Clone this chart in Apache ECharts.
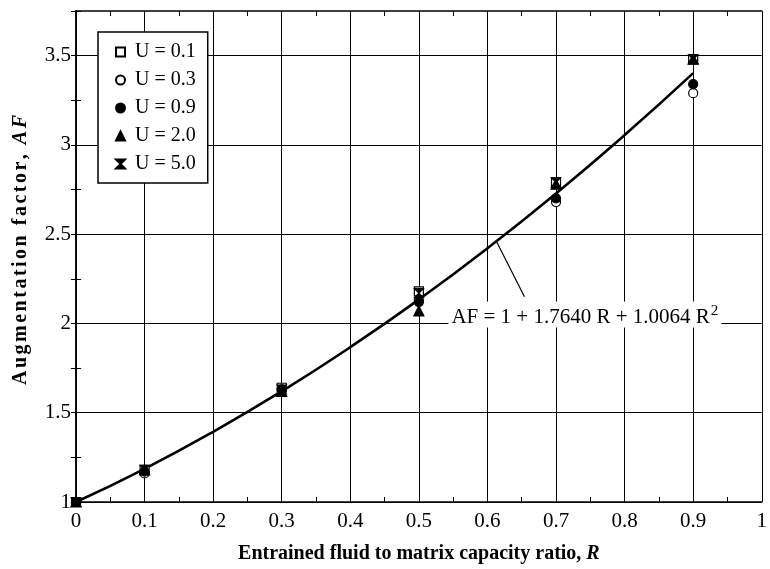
<!DOCTYPE html>
<html>
<head>
	<meta charset="utf-8">
	<title>Augmentation factor</title>
	<script src="https://cdn.jsdelivr.net/npm/echarts@6/dist/echarts.min.js"></script>
	<style type="text/css">
		html, body { margin: 0; padding: 0; background: #fff; }
		#chart { width: 770px; height: 569px; }
	</style>
</head>
<body>
<div id="chart"></div>
<script type="text/javascript">

	// ===========================================  data
	var ratioR = [0, 0.1, 0.3, 0.5, 0.7, 0.9];
	var afU01 = [1.00, 1.18, 1.64, 2.18, 2.79, 3.48];
	var afU03 = [1.00, 1.16, 1.63, 2.13, 2.68, 3.29];
	var afU09 = [1.00, 1.17, 1.63, 2.12, 2.70, 3.34];
	var afU20 = [1.00, 1.18, 1.62, 2.07, 2.78, 3.48];
	var afU50 = [1.00, 1.18, 1.63, 2.17, 2.79, 3.48];

	// fitted curve
	var fitR = [0, 0.1, 0.2, 0.3, 0.4, 0.5, 0.6, 0.7, 0.8, 0.9];
	var fitAF = [1.00, 1.186, 1.393, 1.620, 1.867, 2.134, 2.421, 2.728, 3.055, 3.402];

	var legendNames = ['U = 0.1', 'U = 0.3', 'U = 0.9', 'U = 2.0', 'U = 5.0'];

	var serif = '"Liberation Serif", "DejaVu Serif", serif';

	function pairs(xs, ys) {
		var out = [];
		for (var i = 0; i < xs.length; i++) out.push([xs[i], ys[i]]);
		return out;
	}
	function isStep(v, step) {
		var k = v / step;
		return Math.abs(k - Math.round(k)) < 1e-6;
	}
	// spaced-out letters for the y title (rich text, small gap between chars)
	function spaced(str, style) {
		var out = [];
		for (var i = 0; i < str.length; i++) {
			if (i > 0) out.push('{g| }');
			out.push('{' + style + '|' + str.charAt(i) + '}');
		}
		return out.join('');
	}

	var hourglass = 'path://M0,0 L10,0 L5,5 L10,10 L0,10 L5,5 Z';

	// ===========================================  render
	var myChart = echarts.init(document.getElementById('chart'));

	var scatterBase = function(name, data, symbol, fill, size) {
		return {
			name: name,
			type: 'scatter',
			data: pairs(ratioR, data),
			symbol: symbol,
			symbolSize: size,
			z: 5,
			itemStyle: { color: fill, borderColor: '#000', borderWidth: 1.2, opacity: 1 }
		};
	};

	var boldRich = {
		b: { fontFamily: serif, fontSize: 20, fontWeight: 'bold', color: '#000' },
		bi: { fontFamily: serif, fontSize: 20, fontWeight: 'bold', fontStyle: 'italic', color: '#000' },
		g: { fontFamily: serif, fontSize: 10, color: '#000' }
	};

	var option = {
		animation: false,
		backgroundColor: '#fff',
		grid: { left: 76, right: 4, top: 11, bottom: 66 },
		graphic: [{
			type: 'text',
			x: 21,
			y: 250,
			rotation: Math.PI / 2,
			style: {
				text: spaced('Augmentation factor, ', 'b') + '{g| }' + spaced('AF', 'bi'),
				rich: boldRich,
				align: 'center',
				verticalAlign: 'middle'
			}
		}],
		legend: {
			orient: 'vertical',
			left: 98,
			top: 32,
			padding: [10, 12, 9, 17],
			itemGap: 8,
			itemWidth: 9,
			itemHeight: 9,
			backgroundColor: '#fff',
			borderColor: '#000',
			borderWidth: 1.5,
			formatter: function(n) { return ' ' + n; },
			textStyle: { fontFamily: serif, fontSize: 20, color: '#000' },
			data: legendNames
		},
		xAxis: [{
			type: 'value',
			min: 0, max: 1, interval: 0.05,
			position: 'bottom',
			name: '{b|Entrained fluid to matrix capacity ratio, }{bi|R}',
			nameLocation: 'middle',
			nameGap: 42,
			nameTextStyle: { rich: boldRich },
			axisLine: { lineStyle: { color: '#000', width: 1.5 } },
			axisTick: { inside: true, length: 5, lineStyle: { color: '#000' } },
			axisLabel: {
				fontFamily: serif, fontSize: 21, color: '#000', margin: 9,
				formatter: function(v) { return isStep(v, 0.1) ? String(Math.round(v * 10) / 10) : ''; }
			},
			splitLine: { show: true, lineStyle: { color: ['#000', 'rgba(0,0,0,0)'], width: 1 } }
		}, {
			type: 'value',
			min: 0, max: 1, interval: 0.05,
			position: 'top',
			axisLine: { lineStyle: { color: '#000', width: 1.5 } },
			axisTick: { inside: true, length: 5, lineStyle: { color: '#000' } },
			axisLabel: { show: false },
			splitLine: { show: false }
		}],
		yAxis: [{
			type: 'value',
			min: 1, max: 3.75, interval: 0.25,
			position: 'left',
			axisLine: { lineStyle: { color: '#000', width: 1.5 } },
			axisTick: { inside: true, length: 5, lineStyle: { color: '#000' } },
			axisLabel: {
				fontFamily: serif, fontSize: 21, color: '#000', margin: 5,
				formatter: function(v) { return isStep(v, 0.5) ? String(Math.round(v * 10) / 10) : ''; }
			},
			splitLine: { show: true, lineStyle: { color: ['#000', 'rgba(0,0,0,0)'], width: 1 } }
		}, {
			type: 'value',
			min: 1, max: 3.75, interval: 0.25,
			position: 'right',
			axisLine: { lineStyle: { color: '#000', width: 1.5 } },
			axisTick: { inside: true, length: 5, lineStyle: { color: '#000' } },
			axisLabel: { show: false },
			splitLine: { show: false }
		}],
		series: [
			{
				name: 'fit',
				type: 'line',
				data: pairs(fitR, fitAF),
				smooth: true,
				showSymbol: false,
				symbol: 'none',
				z: 3,
				lineStyle: { color: '#000', width: 2.6 },
				markLine: {
					silent: true,
					symbol: ['none', 'none'],
					label: { show: false },
					lineStyle: { color: '#000', width: 1.2, type: 'solid' },
					data: [[{ coord: [0.613, 2.46] }, { coord: [0.654, 2.15] }]]
				},
				markPoint: {
					silent: true,
					symbol: 'rect',
					symbolSize: 1,
					itemStyle: { color: 'rgba(0,0,0,0)' },
					data: [{ coord: [0.742, 2.05] }],
					label: {
						show: true,
						position: 'inside',
						backgroundColor: '#fff',
						padding: [2, 3, 0, 3],
						formatter: '{t|AF = 1 + 1.7640 R + 1.0064 R}{s|2}',
						rich: {
							t: { fontFamily: serif, fontSize: 21, color: '#000', verticalAlign: 'bottom', lineHeight: 24 },
							s: { fontFamily: serif, fontSize: 15, color: '#000', verticalAlign: 'top', lineHeight: 24, padding: [0, 0, 10, 1] }
						}
					}
				}
			},
			scatterBase('U = 0.1', afU01, 'rect', '#fff', 9),
			scatterBase('U = 0.3', afU03, 'circle', '#fff', 9),
			scatterBase('U = 0.9', afU09, 'circle', '#000', 9),
			scatterBase('U = 2.0', afU20, 'triangle', '#000', 10),
			scatterBase('U = 5.0', afU50, hourglass, '#000', 9)
		]
	};
	myChart.setOption(option);

</script>
</body>
</html>
